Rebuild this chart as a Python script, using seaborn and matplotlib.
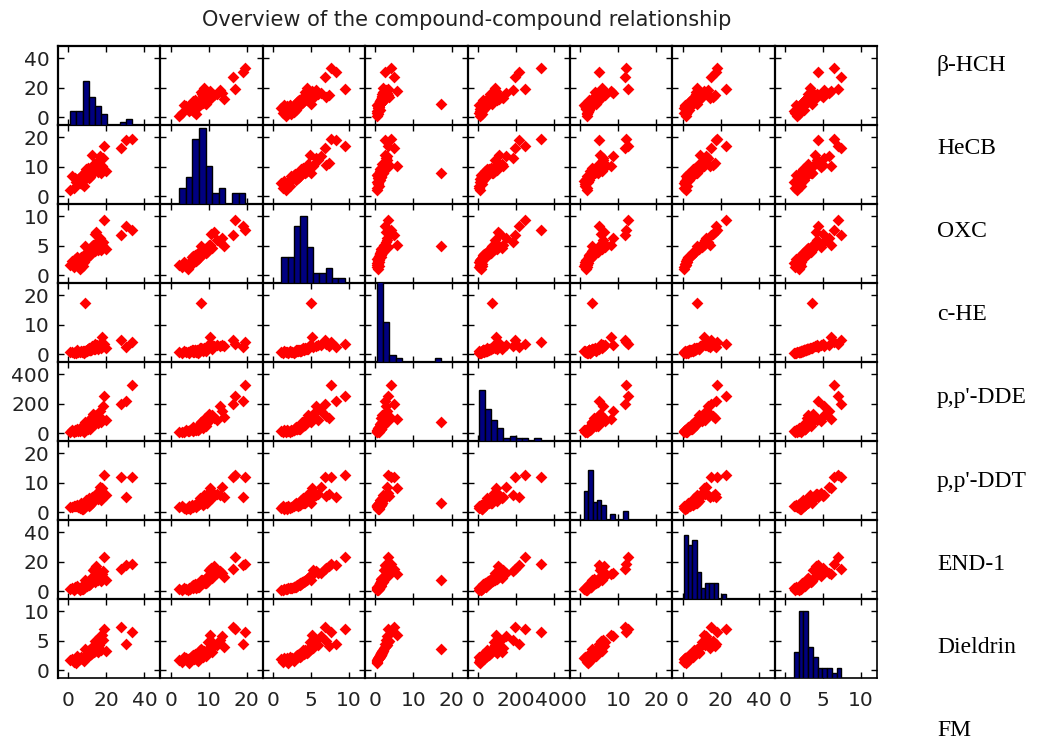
import matplotlib
matplotlib.use("Agg")
import matplotlib.pyplot as plt
import numpy as np
import pandas as pd
import seaborn as sns

# Compounds shown in the matrix (rows and columns share this order)
compounds = ["β-HCH", "HeCB", "OXC", "c-HE", "p,p'-DDE", "p,p'-DDT", "END-1", "Dieldrin"]
side_labels = compounds + ["FM"]

# Concentrations per sample
beta_hch = [6.0, 3.0, 7.9, 1.0, 7.2, 4.1, 8.4, 2.2, 5.3, 8.1, 3.6, 7.6, 4.6, 6.6,
            10.0, 8.8, 10.9, 9.6, 11.5, 8.6, 10.4, 9.4, 11.2, 9.2, 10.5, 9.8, 10.7, 10.2,
            14.3, 12.1, 17.0, 12.7, 15.6, 11.8, 19.8, 13.4, 15.2, 12.4, 17.6, 13.0, 16.0, 13.8, 14.8,
            9.0, 16.5, 18.2, 19.0, 27.5, 30.5, 33.5]
hecb = [4.5, 2.9, 5.2, 2.2, 4.1, 4.9, 3.5,
        6.7, 5.8, 7.2, 6.2, 7.5, 5.5, 6.9, 6.4, 7.35, 6.0, 7.0, 6.5, 7.1, 6.8,
        8.6, 7.8, 9.3, 8.2, 8.9, 7.7, 9.6, 8.5, 8.8, 8.0, 9.1, 8.3, 9.0, 8.7,
        10.8, 9.9, 13.9, 10.3, 10.1, 12.2, 10.6, 11.3,
        8.0, 13.5, 12.9, 17.0, 16.5, 19.0, 19.6]
oxc = [1.1, 1.3, 1.5, 1.7, 1.85, 2.0, 2.2, 2.4, 2.55, 2.7, 2.8, 2.9, 3.0, 3.05, 3.1, 3.2,
       3.25, 3.3, 3.4, 3.5, 3.55, 3.6, 3.65, 3.7, 3.8, 3.85, 3.9, 4.0, 4.05, 4.1, 4.2, 4.25,
       4.3, 4.4, 4.5, 4.6, 4.8, 4.9, 5.1, 5.2, 5.9, 7.0, 7.3,
       5.0, 6.3, 5.6, 9.4, 6.8, 8.3, 7.6]
c_he = [0.7, 0.4, 0.9, 0.55, 0.8, 0.3, 0.95, 0.6, 0.85, 0.5, 0.75, 0.65,
        1.25, 1.05, 1.4, 1.12, 1.33, 1.0, 1.45, 1.15, 1.35, 1.1, 1.3, 1.2,
        1.7, 1.55, 1.95, 1.6, 1.85, 1.5, 2.1, 1.65, 1.8, 1.58, 1.9, 1.75,
        3.2, 2.6, 5.8, 2.3, 3.0, 3.5, 2.9,
        17.3, 3.0, 2.7, 3.4, 4.8, 2.5, 4.2]
dde = [16, 5, 21, 10, 24, 14, 8, 22, 12, 19, 18,
       33, 27, 41, 30, 25, 38, 35, 28, 44, 31, 36,
       61, 50, 72, 56, 47, 69, 64, 53, 78, 58, 66,
       100, 88, 125, 83, 112, 96, 132, 92, 118, 105,
       76, 150, 185, 250, 195, 215, 330]
ddt = [1.5, 1.9, 1.0, 1.7, 1.2, 2.0, 1.35, 1.8, 1.6,
       2.5, 2.1, 2.8, 2.3, 2.95, 2.4, 2.7, 2.2, 2.9, 2.35, 2.6, 2.75, 2.55,
       3.4, 4.2, 3.0, 3.8, 4.7, 3.2, 4.4, 3.1, 4.0, 3.25, 4.5, 3.6,
       5.7, 4.9, 6.6, 5.3, 8.2, 5.1, 6.0, 5.5, 6.3,
       3.1, 8.7, 5.9, 12.5, 11.8, 5.0, 12.1]
end1 = [1.0, 0.8, 1.2, 1.6, 1.4, 1.8, 2.2, 2.0, 2.4, 2.8, 2.6, 2.95, 3.3, 3.1, 3.5, 4.0,
        3.8, 4.2, 4.7, 4.4, 4.9, 5.3, 5.1, 5.5, 5.9, 5.7, 6.1, 6.5, 6.3, 6.7, 7.1, 6.9,
        7.3, 8.4, 7.8, 8.9, 10.2, 9.4, 11.3, 14.5, 12.0, 15.8, 17.0,
        7.5, 12.5, 13.5, 23.0, 15.0, 17.5, 18.2]
dieldrin = [1.9, 1.35, 2.1, 1.65, 2.0, 1.2, 2.15, 1.8, 2.05, 1.5, 1.95, 1.85,
            2.45, 2.25, 2.65, 2.35, 2.55, 2.2, 2.7, 2.4, 2.6, 2.3, 2.5, 2.43,
            3.0, 2.8, 3.4, 2.9, 3.2, 2.75, 3.5, 2.95, 3.1, 2.85, 3.3, 3.05,
            4.7, 3.9, 6.0, 3.75, 4.2, 5.0, 4.05,
            3.6, 5.8, 5.2, 7.0, 7.4, 4.4, 6.5]

# Largest labelled tick of each compound's axis
axis_max = [40, 20, 10, 20, 400, 20, 40, 10]
# Count range of each diagonal histogram
hist_count_max = [28.6, 14.6, 15.3, 22.0, 29.7, 27.0, 14.7, 15.3]

df = pd.DataFrame(dict(zip(compounds, [beta_hch, hecb, oxc, c_he, dde, ddt, end1, dieldrin])))

sns.set_theme(style="white")
plt.rcParams["font.family"] = ["DejaVu Sans"]

W, H = 1048, 742
fig, axes = plt.subplots(8, 8, figsize=(W / 100, H / 100), dpi=100)
fig.subplots_adjust(left=58 / W, right=877 / W, top=1 - 46 / H, bottom=1 - 678 / H,
                    wspace=0, hspace=0)

tick_fs = 14.5

def limits(t):
    return (-0.135 * t, 1.21 * t)

for i, yname in enumerate(compounds):
    for j, xname in enumerate(compounds):
        ax = axes[i, j]
        tx, ty = axis_max[j], axis_max[i]
        if i == j:
            hax = ax.twinx()
            vals = df[xname]
            sns.histplot(x=vals, bins=10, binrange=(vals.min(), vals.max()), ax=hax,
                         color="#000080", edgecolor="black", linewidth=1.0, alpha=1.0)
            hax.set_ylim(0, hist_count_max[i])
            hax.set_yticks([])
            hax.set_ylabel("")
            hax.set_xlabel("")
            for sp in hax.spines.values():
                sp.set_visible(False)
        else:
            sns.scatterplot(data=df, x=xname, y=yname, ax=ax, color="#ff0000",
                            marker="D", s=36, linewidth=0, legend=False)
        ax.set_xlim(*limits(tx))
        ax.set_ylim(*limits(ty))
        ax.set_xticks([0, tx // 2, tx])
        ax.set_yticks([0, ty // 2, ty])
        ax.set_xticklabels([str(v) for v in (0, tx // 2, tx)])
        ax.set_yticklabels([str(v) for v in (0, ty // 2, ty)])
        ax.set_xlabel("")
        ax.set_ylabel("")
        ax.tick_params(direction="in", length=4, width=1, colors="black",
                       top=True, right=True, bottom=True, left=True,
                       labelleft=(j == 0), labelbottom=(i == 7),
                       labelsize=tick_fs, labelcolor="#222222")
        ax.tick_params(axis="x", pad=9)
        ax.tick_params(axis="y", pad=6)
        for name, sp in ax.spines.items():
            sp.set_visible(True)
            sp.set_color("black")
            sp.set_linewidth(1.6 if name in ("left", "top") else 1.2)
        ax.set_facecolor("white")

fig.text(467 / W, 1 - 20 / H, "Overview of the compound-compound relationship",
         ha="center", va="center", fontsize=15, color="#222222")

for k, name in enumerate(side_labels):
    fig.text(937 / W, 1 - (65 + k * 83.2) / H, name, ha="left", va="center",
             fontsize=17, family=["Liberation Serif", "DejaVu Serif"], color="black")

fig.savefig("out.png", dpi=100, facecolor="white")
